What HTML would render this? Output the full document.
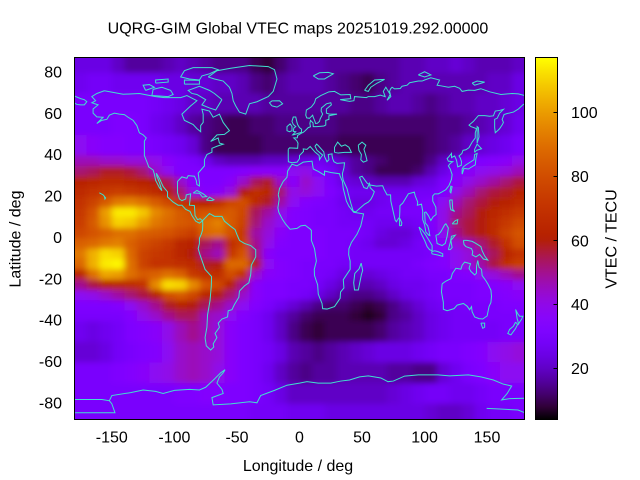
<!DOCTYPE html>
<html><head><meta charset="utf-8">
<style>
html,body{margin:0;padding:0;background:#fff}
svg{display:block}
text{font-family:"Liberation Sans",Arial,sans-serif;font-size:16px;fill:#000}
.a6{fill:#22001c}.a8{fill:#300038}.a10{fill:#3b0053}.a12{fill:#44006e}.a14{fill:#4c0086}.a16{fill:#53009e}.a18{fill:#5a00b3}.a20{fill:#6001c6}.a22{fill:#6601d6}.a24{fill:#6b01e4}.a26{fill:#7002f0}.a28{fill:#7502f8}.a30{fill:#7a03fd}.a32{fill:#7f04ff}.a34{fill:#8305fe}.a36{fill:#8806fa}.a38{fill:#8c07f2}.a40{fill:#9008e8}.a42{fill:#940adb}.a44{fill:#980bcb}.a46{fill:#9b0db9}.a48{fill:#9f0fa4}.a50{fill:#a3118e}.a52{fill:#a61375}.a54{fill:#a9165c}.a56{fill:#ad1941}.a58{fill:#b01c25}.a60{fill:#b31f08}.a62{fill:#b72200}.a64{fill:#ba2600}.a66{fill:#bd2a00}.a68{fill:#c02e00}.a70{fill:#c33300}.a72{fill:#c63700}.a74{fill:#c93c00}.a76{fill:#cb4200}.a78{fill:#ce4700}.a80{fill:#d14d00}.a82{fill:#d45300}.a84{fill:#d65a00}.a86{fill:#d96100}.a88{fill:#dc6800}.a90{fill:#de7000}.a92{fill:#e17800}.a94{fill:#e38000}.a96{fill:#e68900}.a98{fill:#e89200}.a100{fill:#eb9c00}.a102{fill:#eda500}.a104{fill:#f0b000}.a106{fill:#f2bb00}.a108{fill:#f4c600}.a110{fill:#f7d100}.a112{fill:#f9dd00}.a114{fill:#fbea00}.a116{fill:#fef700}
.cl polyline{fill:none;stroke:#40e0d0;stroke-width:1;vector-effect:non-scaling-stroke}
</style></head><body>
<svg width="640" height="480" viewBox="0 0 640 480">
<defs>
<rect id="p" width="10.6" height="5.6"/>
<rect id="q" width="10.6" height="10.6"/>
<rect id="r" width="10.6" height="15.6"/>
<filter id="b" x="-10%" y="-10%" width="120%" height="120%"><feGaussianBlur stdDeviation="3.5 3"/></filter>
<clipPath id="cp"><rect x="74.5" y="57.5" width="450" height="362"/></clipPath>
<linearGradient id="cb" x1="0" y1="0" x2="0" y2="1">
<stop offset="0" stop-color="#ffff00"/><stop offset="0.046" stop-color="#f9dd00"/><stop offset="0.0813" stop-color="#f4c600"/><stop offset="0.1166" stop-color="#f0b000"/><stop offset="0.1519" stop-color="#eb9c00"/><stop offset="0.1873" stop-color="#e68900"/><stop offset="0.2226" stop-color="#e17800"/><stop offset="0.258" stop-color="#dc6800"/><stop offset="0.2933" stop-color="#d65a00"/><stop offset="0.3286" stop-color="#d14d00"/><stop offset="0.364" stop-color="#cb4200"/><stop offset="0.3993" stop-color="#c63700"/><stop offset="0.4346" stop-color="#c02e00"/><stop offset="0.47" stop-color="#ba2600"/><stop offset="0.4876" stop-color="#b72200"/><stop offset="0.5053" stop-color="#b31f08"/><stop offset="0.523" stop-color="#b01c25"/><stop offset="0.5406" stop-color="#ad1941"/><stop offset="0.5583" stop-color="#a9165c"/><stop offset="0.576" stop-color="#a61375"/><stop offset="0.5936" stop-color="#a3118e"/><stop offset="0.6113" stop-color="#9f0fa4"/><stop offset="0.629" stop-color="#9b0db9"/><stop offset="0.6466" stop-color="#980bcb"/><stop offset="0.6643" stop-color="#940adb"/><stop offset="0.682" stop-color="#9008e8"/><stop offset="0.7173" stop-color="#8806fa"/><stop offset="0.7527" stop-color="#7f04ff"/><stop offset="0.788" stop-color="#7502f8"/><stop offset="0.8233" stop-color="#6b01e4"/><stop offset="0.8587" stop-color="#6001c6"/><stop offset="0.894" stop-color="#53009e"/><stop offset="0.9293" stop-color="#44006e"/><stop offset="0.9647" stop-color="#300038"/><stop offset="1" stop-color="#000000"/>
</linearGradient>
</defs>
<rect x="74.5" y="57.5" width="450" height="362" fill="#7a03fd"/>
<g clip-path="url(#cp)">
<g filter="url(#b)">
<g transform="matrix(1.251 0 0 2.069 299.5 238.3)">
<g transform="translate(0,-95)"><use href="#r" x="-190" class="a24"/><use href="#r" x="-180" class="a24"/><use href="#r" x="-170" class="a24"/><use href="#r" x="-160" class="a24"/><use href="#r" x="-150" class="a20"/><use href="#r" x="-140" class="a16"/><use href="#r" x="-130" class="a16"/><use href="#r" x="-120" class="a16"/><use href="#r" x="-110" class="a18"/><use href="#r" x="-100" class="a20"/><use href="#r" x="-90" class="a18"/><use href="#r" x="-80" class="a16"/><use href="#r" x="-70" class="a14"/><use href="#r" x="-60" class="a14"/><use href="#r" x="-50" class="a14"/><use href="#r" x="-40" class="a10"/><use href="#r" x="-30" class="a8"/><use href="#r" x="-20" class="a12"/><use href="#r" x="-10" class="a16"/><use href="#r" x="0" class="a18"/><use href="#r" x="10" class="a18"/><use href="#r" x="20" class="a16"/><use href="#r" x="30" class="a16"/><use href="#r" x="40" class="a16"/><use href="#r" x="50" class="a16"/><use href="#r" x="60" class="a16"/><use href="#r" x="70" class="a16"/><use href="#r" x="80" class="a18"/><use href="#r" x="90" class="a18"/><use href="#r" x="100" class="a20"/><use href="#r" x="110" class="a20"/><use href="#r" x="120" class="a22"/><use href="#r" x="130" class="a20"/><use href="#r" x="140" class="a18"/><use href="#r" x="150" class="a18"/><use href="#r" x="160" class="a18"/><use href="#r" x="170" class="a20"/><use href="#r" x="180" class="a20"/></g>
<g transform="translate(0,-80)"><use href="#q" x="-190" class="a26"/><use href="#q" x="-180" class="a26"/><use href="#q" x="-170" class="a28"/><use href="#q" x="-160" class="a28"/><use href="#q" x="-150" class="a26"/><use href="#q" x="-140" class="a26"/><use href="#q" x="-130" class="a26"/><use href="#q" x="-120" class="a26"/><use href="#q" x="-110" class="a24"/><use href="#q" x="-100" class="a24"/><use href="#q" x="-90" class="a22"/><use href="#q" x="-80" class="a22"/><use href="#q" x="-70" class="a20"/><use href="#q" x="-60" class="a20"/><use href="#q" x="-50" class="a18"/><use href="#q" x="-40" class="a14"/><use href="#q" x="-30" class="a12"/><use href="#q" x="-20" class="a16"/><use href="#q" x="-10" class="a18"/><use href="#q" x="0" class="a18"/><use href="#q" x="10" class="a18"/><use href="#q" x="20" class="a16"/><use href="#q" x="30" class="a14"/><use href="#q" x="40" class="a12"/><use href="#q" x="50" class="a10"/><use href="#q" x="60" class="a14"/><use href="#q" x="70" class="a16"/><use href="#q" x="80" class="a18"/><use href="#q" x="90" class="a18"/><use href="#q" x="100" class="a18"/><use href="#q" x="110" class="a18"/><use href="#q" x="120" class="a18"/><use href="#q" x="130" class="a18"/><use href="#q" x="140" class="a18"/><use href="#q" x="150" class="a20"/><use href="#q" x="160" class="a20"/><use href="#q" x="170" class="a24"/><use href="#q" x="180" class="a24"/></g>
<g transform="translate(0,-70)"><use href="#q" x="-190" class="a30"/><use href="#q" x="-180" class="a30"/><use href="#q" x="-170" class="a30"/><use href="#q" x="-160" class="a30"/><use href="#q" x="-150" class="a30"/><use href="#q" x="-140" class="a30"/><use href="#q" x="-130" class="a30"/><use href="#q" x="-120" class="a28"/><use href="#q" x="-110" class="a26"/><use href="#q" x="-100" class="a24"/><use href="#q" x="-90" class="a20"/><use href="#q" x="-80" class="a20"/><use href="#q" x="-70" class="a18"/><use href="#q" x="-60" class="a18"/><use href="#q" x="-50" class="a18"/><use href="#q" x="-40" class="a18"/><use href="#q" x="-30" class="a16"/><use href="#q" x="-20" class="a16"/><use href="#q" x="-10" class="a16"/><use href="#q" x="0" class="a16"/><use href="#q" x="10" class="a16"/><use href="#q" x="20" class="a16"/><use href="#q" x="30" class="a16"/><use href="#q" x="40" class="a14"/><use href="#q" x="50" class="a14"/><use href="#q" x="60" class="a16"/><use href="#q" x="70" class="a18"/><use href="#q" x="80" class="a18"/><use href="#q" x="90" class="a16"/><use href="#q" x="100" class="a14"/><use href="#q" x="110" class="a16"/><use href="#q" x="120" class="a18"/><use href="#q" x="130" class="a18"/><use href="#q" x="140" class="a20"/><use href="#q" x="150" class="a20"/><use href="#q" x="160" class="a22"/><use href="#q" x="170" class="a24"/><use href="#q" x="180" class="a24"/></g>
<g transform="translate(0,-60)"><use href="#q" x="-190" class="a30"/><use href="#q" x="-180" class="a30"/><use href="#q" x="-170" class="a30"/><use href="#q" x="-160" class="a30"/><use href="#q" x="-150" class="a32"/><use href="#q" x="-140" class="a32"/><use href="#q" x="-130" class="a30"/><use href="#q" x="-120" class="a26"/><use href="#q" x="-110" class="a24"/><use href="#q" x="-100" class="a20"/><use href="#q" x="-90" class="a16"/><use href="#q" x="-80" class="a14"/><use href="#q" x="-70" class="a12"/><use href="#q" x="-60" class="a10"/><use href="#q" x="-50" class="a10"/><use href="#q" x="-40" class="a12"/><use href="#q" x="-30" class="a12"/><use href="#q" x="-20" class="a14"/><use href="#q" x="-10" class="a14"/><use href="#q" x="0" class="a14"/><use href="#q" x="10" class="a14"/><use href="#q" x="20" class="a14"/><use href="#q" x="30" class="a12"/><use href="#q" x="40" class="a12"/><use href="#q" x="50" class="a12"/><use href="#q" x="60" class="a12"/><use href="#q" x="70" class="a12"/><use href="#q" x="80" class="a12"/><use href="#q" x="90" class="a12"/><use href="#q" x="100" class="a12"/><use href="#q" x="110" class="a14"/><use href="#q" x="120" class="a14"/><use href="#q" x="130" class="a16"/><use href="#q" x="140" class="a18"/><use href="#q" x="150" class="a20"/><use href="#q" x="160" class="a22"/><use href="#q" x="170" class="a26"/><use href="#q" x="180" class="a26"/></g>
<g transform="translate(0,-50)"><use href="#q" x="-190" class="a38"/><use href="#q" x="-180" class="a38"/><use href="#q" x="-170" class="a36"/><use href="#q" x="-160" class="a34"/><use href="#q" x="-150" class="a34"/><use href="#q" x="-140" class="a32"/><use href="#q" x="-130" class="a32"/><use href="#q" x="-120" class="a30"/><use href="#q" x="-110" class="a28"/><use href="#q" x="-100" class="a26"/><use href="#q" x="-90" class="a22"/><use href="#q" x="-80" class="a14"/><use href="#q" x="-70" class="a10"/><use href="#q" x="-60" class="a10"/><use href="#q" x="-50" class="a10"/><use href="#q" x="-40" class="a10"/><use href="#q" x="-30" class="a12"/><use href="#q" x="-20" class="a12"/><use href="#q" x="-10" class="a12"/><use href="#q" x="0" class="a12"/><use href="#q" x="10" class="a12"/><use href="#q" x="20" class="a12"/><use href="#q" x="30" class="a10"/><use href="#q" x="40" class="a10"/><use href="#q" x="50" class="a10"/><use href="#q" x="60" class="a10"/><use href="#q" x="70" class="a10"/><use href="#q" x="80" class="a10"/><use href="#q" x="90" class="a10"/><use href="#q" x="100" class="a12"/><use href="#q" x="110" class="a14"/><use href="#q" x="120" class="a16"/><use href="#q" x="130" class="a20"/><use href="#q" x="140" class="a22"/><use href="#q" x="150" class="a24"/><use href="#q" x="160" class="a26"/><use href="#q" x="170" class="a30"/><use href="#q" x="180" class="a30"/></g>
<g transform="translate(0,-40)"><use href="#p" x="-190" class="a46"/><use href="#p" x="-180" class="a46"/><use href="#p" x="-170" class="a46"/><use href="#p" x="-160" class="a44"/><use href="#p" x="-150" class="a44"/><use href="#p" x="-140" class="a42"/><use href="#p" x="-130" class="a42"/><use href="#p" x="-120" class="a40"/><use href="#p" x="-110" class="a36"/><use href="#p" x="-100" class="a32"/><use href="#p" x="-90" class="a30"/><use href="#p" x="-80" class="a26"/><use href="#p" x="-70" class="a20"/><use href="#p" x="-60" class="a18"/><use href="#p" x="-50" class="a18"/><use href="#p" x="-40" class="a18"/><use href="#p" x="-30" class="a20"/><use href="#p" x="-20" class="a20"/><use href="#p" x="-10" class="a22"/><use href="#p" x="0" class="a24"/><use href="#p" x="10" class="a26"/><use href="#p" x="20" class="a24"/><use href="#p" x="30" class="a20"/><use href="#p" x="40" class="a16"/><use href="#p" x="50" class="a14"/><use href="#p" x="60" class="a12"/><use href="#p" x="70" class="a10"/><use href="#p" x="80" class="a10"/><use href="#p" x="90" class="a10"/><use href="#p" x="100" class="a14"/><use href="#p" x="110" class="a20"/><use href="#p" x="120" class="a26"/><use href="#p" x="130" class="a30"/><use href="#p" x="140" class="a32"/><use href="#p" x="150" class="a34"/><use href="#p" x="160" class="a36"/><use href="#p" x="170" class="a40"/><use href="#p" x="180" class="a40"/></g>
<g transform="translate(0,-35)"><use href="#p" x="-190" class="a52"/><use href="#p" x="-180" class="a52"/><use href="#p" x="-170" class="a54"/><use href="#p" x="-160" class="a58"/><use href="#p" x="-150" class="a58"/><use href="#p" x="-140" class="a56"/><use href="#p" x="-130" class="a52"/><use href="#p" x="-120" class="a44"/><use href="#p" x="-110" class="a38"/><use href="#p" x="-100" class="a32"/><use href="#p" x="-90" class="a32"/><use href="#p" x="-80" class="a32"/><use href="#p" x="-70" class="a32"/><use href="#p" x="-60" class="a32"/><use href="#p" x="-50" class="a34"/><use href="#p" x="-40" class="a36"/><use href="#p" x="-30" class="a36"/><use href="#p" x="-20" class="a36"/><use href="#p" x="-10" class="a38"/><use href="#p" x="0" class="a40"/><use href="#p" x="10" class="a32"/><use href="#p" x="20" class="a28"/><use href="#p" x="30" class="a22"/><use href="#p" x="40" class="a16"/><use href="#p" x="50" class="a14"/><use href="#p" x="60" class="a10"/><use href="#p" x="70" class="a10"/><use href="#p" x="80" class="a10"/><use href="#p" x="90" class="a12"/><use href="#p" x="100" class="a18"/><use href="#p" x="110" class="a24"/><use href="#p" x="120" class="a32"/><use href="#p" x="130" class="a36"/><use href="#p" x="140" class="a38"/><use href="#p" x="150" class="a40"/><use href="#p" x="160" class="a42"/><use href="#p" x="170" class="a46"/><use href="#p" x="180" class="a46"/></g>
<g transform="translate(0,-30)"><use href="#p" x="-190" class="a62"/><use href="#p" x="-180" class="a62"/><use href="#p" x="-170" class="a64"/><use href="#p" x="-160" class="a66"/><use href="#p" x="-150" class="a66"/><use href="#p" x="-140" class="a64"/><use href="#p" x="-130" class="a62"/><use href="#p" x="-120" class="a60"/><use href="#p" x="-110" class="a54"/><use href="#p" x="-100" class="a44"/><use href="#p" x="-90" class="a36"/><use href="#p" x="-80" class="a32"/><use href="#p" x="-70" class="a32"/><use href="#p" x="-60" class="a36"/><use href="#p" x="-50" class="a44"/><use href="#p" x="-40" class="a54"/><use href="#p" x="-30" class="a58"/><use href="#p" x="-20" class="a44"/><use href="#p" x="-10" class="a36"/><use href="#p" x="0" class="a44"/><use href="#p" x="10" class="a38"/><use href="#p" x="20" class="a30"/><use href="#p" x="30" class="a24"/><use href="#p" x="40" class="a22"/><use href="#p" x="50" class="a20"/><use href="#p" x="60" class="a18"/><use href="#p" x="70" class="a18"/><use href="#p" x="80" class="a18"/><use href="#p" x="90" class="a22"/><use href="#p" x="100" class="a24"/><use href="#p" x="110" class="a30"/><use href="#p" x="120" class="a36"/><use href="#p" x="130" class="a40"/><use href="#p" x="140" class="a44"/><use href="#p" x="150" class="a48"/><use href="#p" x="160" class="a52"/><use href="#p" x="170" class="a56"/><use href="#p" x="180" class="a56"/></g>
<g transform="translate(0,-25)"><use href="#p" x="-190" class="a66"/><use href="#p" x="-180" class="a66"/><use href="#p" x="-170" class="a70"/><use href="#p" x="-160" class="a72"/><use href="#p" x="-150" class="a74"/><use href="#p" x="-140" class="a72"/><use href="#p" x="-130" class="a70"/><use href="#p" x="-120" class="a66"/><use href="#p" x="-110" class="a60"/><use href="#p" x="-100" class="a52"/><use href="#p" x="-90" class="a40"/><use href="#p" x="-80" class="a34"/><use href="#p" x="-70" class="a36"/><use href="#p" x="-60" class="a42"/><use href="#p" x="-50" class="a60"/><use href="#p" x="-40" class="a68"/><use href="#p" x="-30" class="a64"/><use href="#p" x="-20" class="a52"/><use href="#p" x="-10" class="a40"/><use href="#p" x="0" class="a42"/><use href="#p" x="10" class="a38"/><use href="#p" x="20" class="a32"/><use href="#p" x="30" class="a28"/><use href="#p" x="40" class="a26"/><use href="#p" x="50" class="a26"/><use href="#p" x="60" class="a26"/><use href="#p" x="70" class="a26"/><use href="#p" x="80" class="a26"/><use href="#p" x="90" class="a28"/><use href="#p" x="100" class="a28"/><use href="#p" x="110" class="a32"/><use href="#p" x="120" class="a40"/><use href="#p" x="130" class="a46"/><use href="#p" x="140" class="a52"/><use href="#p" x="150" class="a56"/><use href="#p" x="160" class="a58"/><use href="#p" x="170" class="a62"/><use href="#p" x="180" class="a62"/></g>
<g transform="translate(0,-20)"><use href="#p" x="-190" class="a70"/><use href="#p" x="-180" class="a70"/><use href="#p" x="-170" class="a76"/><use href="#p" x="-160" class="a84"/><use href="#p" x="-150" class="a92"/><use href="#p" x="-140" class="a94"/><use href="#p" x="-130" class="a90"/><use href="#p" x="-120" class="a84"/><use href="#p" x="-110" class="a78"/><use href="#p" x="-100" class="a70"/><use href="#p" x="-90" class="a64"/><use href="#p" x="-80" class="a62"/><use href="#p" x="-70" class="a68"/><use href="#p" x="-60" class="a78"/><use href="#p" x="-50" class="a80"/><use href="#p" x="-40" class="a66"/><use href="#p" x="-30" class="a58"/><use href="#p" x="-20" class="a48"/><use href="#p" x="-10" class="a38"/><use href="#p" x="0" class="a34"/><use href="#p" x="10" class="a32"/><use href="#p" x="20" class="a30"/><use href="#p" x="30" class="a26"/><use href="#p" x="40" class="a24"/><use href="#p" x="50" class="a24"/><use href="#p" x="60" class="a26"/><use href="#p" x="70" class="a28"/><use href="#p" x="80" class="a28"/><use href="#p" x="90" class="a30"/><use href="#p" x="100" class="a32"/><use href="#p" x="110" class="a38"/><use href="#p" x="120" class="a46"/><use href="#p" x="130" class="a52"/><use href="#p" x="140" class="a56"/><use href="#p" x="150" class="a60"/><use href="#p" x="160" class="a62"/><use href="#p" x="170" class="a66"/><use href="#p" x="180" class="a66"/></g>
<g transform="translate(0,-15)"><use href="#p" x="-190" class="a72"/><use href="#p" x="-180" class="a72"/><use href="#p" x="-170" class="a82"/><use href="#p" x="-160" class="a100"/><use href="#p" x="-150" class="a114"/><use href="#p" x="-140" class="a114"/><use href="#p" x="-130" class="a108"/><use href="#p" x="-120" class="a96"/><use href="#p" x="-110" class="a90"/><use href="#p" x="-100" class="a84"/><use href="#p" x="-90" class="a80"/><use href="#p" x="-80" class="a82"/><use href="#p" x="-70" class="a82"/><use href="#p" x="-60" class="a84"/><use href="#p" x="-50" class="a78"/><use href="#p" x="-40" class="a54"/><use href="#p" x="-30" class="a48"/><use href="#p" x="-20" class="a40"/><use href="#p" x="-10" class="a34"/><use href="#p" x="0" class="a32"/><use href="#p" x="10" class="a30"/><use href="#p" x="20" class="a30"/><use href="#p" x="30" class="a28"/><use href="#p" x="40" class="a26"/><use href="#p" x="50" class="a26"/><use href="#p" x="60" class="a28"/><use href="#p" x="70" class="a28"/><use href="#p" x="80" class="a30"/><use href="#p" x="90" class="a30"/><use href="#p" x="100" class="a32"/><use href="#p" x="110" class="a40"/><use href="#p" x="120" class="a50"/><use href="#p" x="130" class="a54"/><use href="#p" x="140" class="a60"/><use href="#p" x="150" class="a64"/><use href="#p" x="160" class="a68"/><use href="#p" x="170" class="a72"/><use href="#p" x="180" class="a72"/></g>
<g transform="translate(0,-10)"><use href="#p" x="-190" class="a74"/><use href="#p" x="-180" class="a74"/><use href="#p" x="-170" class="a84"/><use href="#p" x="-160" class="a98"/><use href="#p" x="-150" class="a110"/><use href="#p" x="-140" class="a108"/><use href="#p" x="-130" class="a100"/><use href="#p" x="-120" class="a92"/><use href="#p" x="-110" class="a88"/><use href="#p" x="-100" class="a84"/><use href="#p" x="-90" class="a82"/><use href="#p" x="-80" class="a90"/><use href="#p" x="-70" class="a94"/><use href="#p" x="-60" class="a84"/><use href="#p" x="-50" class="a76"/><use href="#p" x="-40" class="a52"/><use href="#p" x="-30" class="a44"/><use href="#p" x="-20" class="a38"/><use href="#p" x="-10" class="a34"/><use href="#p" x="0" class="a32"/><use href="#p" x="10" class="a30"/><use href="#p" x="20" class="a30"/><use href="#p" x="30" class="a28"/><use href="#p" x="40" class="a28"/><use href="#p" x="50" class="a28"/><use href="#p" x="60" class="a26"/><use href="#p" x="70" class="a26"/><use href="#p" x="80" class="a26"/><use href="#p" x="90" class="a28"/><use href="#p" x="100" class="a32"/><use href="#p" x="110" class="a40"/><use href="#p" x="120" class="a52"/><use href="#p" x="130" class="a56"/><use href="#p" x="140" class="a60"/><use href="#p" x="150" class="a66"/><use href="#p" x="160" class="a72"/><use href="#p" x="170" class="a78"/><use href="#p" x="180" class="a78"/></g>
<g transform="translate(0,-5)"><use href="#p" x="-190" class="a78"/><use href="#p" x="-180" class="a78"/><use href="#p" x="-170" class="a82"/><use href="#p" x="-160" class="a86"/><use href="#p" x="-150" class="a90"/><use href="#p" x="-140" class="a90"/><use href="#p" x="-130" class="a86"/><use href="#p" x="-120" class="a84"/><use href="#p" x="-110" class="a82"/><use href="#p" x="-100" class="a78"/><use href="#p" x="-90" class="a74"/><use href="#p" x="-80" class="a88"/><use href="#p" x="-70" class="a90"/><use href="#p" x="-60" class="a82"/><use href="#p" x="-50" class="a72"/><use href="#p" x="-40" class="a48"/><use href="#p" x="-30" class="a42"/><use href="#p" x="-20" class="a36"/><use href="#p" x="-10" class="a32"/><use href="#p" x="0" class="a32"/><use href="#p" x="10" class="a32"/><use href="#p" x="20" class="a30"/><use href="#p" x="30" class="a30"/><use href="#p" x="40" class="a30"/><use href="#p" x="50" class="a28"/><use href="#p" x="60" class="a24"/><use href="#p" x="70" class="a22"/><use href="#p" x="80" class="a22"/><use href="#p" x="90" class="a26"/><use href="#p" x="100" class="a30"/><use href="#p" x="110" class="a38"/><use href="#p" x="120" class="a50"/><use href="#p" x="130" class="a56"/><use href="#p" x="140" class="a60"/><use href="#p" x="150" class="a66"/><use href="#p" x="160" class="a76"/><use href="#p" x="170" class="a82"/><use href="#p" x="180" class="a82"/></g>
<g transform="translate(0,0)"><use href="#p" x="-190" class="a86"/><use href="#p" x="-180" class="a86"/><use href="#p" x="-170" class="a88"/><use href="#p" x="-160" class="a92"/><use href="#p" x="-150" class="a94"/><use href="#p" x="-140" class="a86"/><use href="#p" x="-130" class="a80"/><use href="#p" x="-120" class="a76"/><use href="#p" x="-110" class="a72"/><use href="#p" x="-100" class="a64"/><use href="#p" x="-90" class="a62"/><use href="#p" x="-80" class="a54"/><use href="#p" x="-70" class="a50"/><use href="#p" x="-60" class="a68"/><use href="#p" x="-50" class="a76"/><use href="#p" x="-40" class="a50"/><use href="#p" x="-30" class="a40"/><use href="#p" x="-20" class="a34"/><use href="#p" x="-10" class="a32"/><use href="#p" x="0" class="a32"/><use href="#p" x="10" class="a32"/><use href="#p" x="20" class="a30"/><use href="#p" x="30" class="a30"/><use href="#p" x="40" class="a28"/><use href="#p" x="50" class="a26"/><use href="#p" x="60" class="a22"/><use href="#p" x="70" class="a22"/><use href="#p" x="80" class="a24"/><use href="#p" x="90" class="a28"/><use href="#p" x="100" class="a32"/><use href="#p" x="110" class="a36"/><use href="#p" x="120" class="a42"/><use href="#p" x="130" class="a46"/><use href="#p" x="140" class="a52"/><use href="#p" x="150" class="a58"/><use href="#p" x="160" class="a70"/><use href="#p" x="170" class="a80"/><use href="#p" x="180" class="a80"/></g>
<g transform="translate(0,5)"><use href="#p" x="-190" class="a92"/><use href="#p" x="-180" class="a92"/><use href="#p" x="-170" class="a104"/><use href="#p" x="-160" class="a112"/><use href="#p" x="-150" class="a110"/><use href="#p" x="-140" class="a88"/><use href="#p" x="-130" class="a76"/><use href="#p" x="-120" class="a72"/><use href="#p" x="-110" class="a70"/><use href="#p" x="-100" class="a64"/><use href="#p" x="-90" class="a60"/><use href="#p" x="-80" class="a50"/><use href="#p" x="-70" class="a46"/><use href="#p" x="-60" class="a72"/><use href="#p" x="-50" class="a82"/><use href="#p" x="-40" class="a52"/><use href="#p" x="-30" class="a36"/><use href="#p" x="-20" class="a32"/><use href="#p" x="-10" class="a32"/><use href="#p" x="0" class="a32"/><use href="#p" x="10" class="a32"/><use href="#p" x="20" class="a30"/><use href="#p" x="30" class="a30"/><use href="#p" x="40" class="a28"/><use href="#p" x="50" class="a28"/><use href="#p" x="60" class="a28"/><use href="#p" x="70" class="a28"/><use href="#p" x="80" class="a28"/><use href="#p" x="90" class="a28"/><use href="#p" x="100" class="a30"/><use href="#p" x="110" class="a34"/><use href="#p" x="120" class="a38"/><use href="#p" x="130" class="a42"/><use href="#p" x="140" class="a48"/><use href="#p" x="150" class="a54"/><use href="#p" x="160" class="a64"/><use href="#p" x="170" class="a70"/><use href="#p" x="180" class="a70"/></g>
<g transform="translate(0,10)"><use href="#p" x="-190" class="a88"/><use href="#p" x="-180" class="a88"/><use href="#p" x="-170" class="a104"/><use href="#p" x="-160" class="a114"/><use href="#p" x="-150" class="a116"/><use href="#p" x="-140" class="a90"/><use href="#p" x="-130" class="a76"/><use href="#p" x="-120" class="a70"/><use href="#p" x="-110" class="a70"/><use href="#p" x="-100" class="a68"/><use href="#p" x="-90" class="a66"/><use href="#p" x="-80" class="a58"/><use href="#p" x="-70" class="a60"/><use href="#p" x="-60" class="a88"/><use href="#p" x="-50" class="a88"/><use href="#p" x="-40" class="a60"/><use href="#p" x="-30" class="a38"/><use href="#p" x="-20" class="a34"/><use href="#p" x="-10" class="a32"/><use href="#p" x="0" class="a30"/><use href="#p" x="10" class="a30"/><use href="#p" x="20" class="a30"/><use href="#p" x="30" class="a28"/><use href="#p" x="40" class="a28"/><use href="#p" x="50" class="a28"/><use href="#p" x="60" class="a28"/><use href="#p" x="70" class="a28"/><use href="#p" x="80" class="a28"/><use href="#p" x="90" class="a30"/><use href="#p" x="100" class="a32"/><use href="#p" x="110" class="a34"/><use href="#p" x="120" class="a38"/><use href="#p" x="130" class="a42"/><use href="#p" x="140" class="a48"/><use href="#p" x="150" class="a56"/><use href="#p" x="160" class="a68"/><use href="#p" x="170" class="a74"/><use href="#p" x="180" class="a74"/></g>
<g transform="translate(0,15)"><use href="#p" x="-190" class="a64"/><use href="#p" x="-180" class="a64"/><use href="#p" x="-170" class="a90"/><use href="#p" x="-160" class="a102"/><use href="#p" x="-150" class="a100"/><use href="#p" x="-140" class="a90"/><use href="#p" x="-130" class="a84"/><use href="#p" x="-120" class="a86"/><use href="#p" x="-110" class="a90"/><use href="#p" x="-100" class="a86"/><use href="#p" x="-90" class="a72"/><use href="#p" x="-80" class="a68"/><use href="#p" x="-70" class="a68"/><use href="#p" x="-60" class="a80"/><use href="#p" x="-50" class="a70"/><use href="#p" x="-40" class="a44"/><use href="#p" x="-30" class="a36"/><use href="#p" x="-20" class="a34"/><use href="#p" x="-10" class="a32"/><use href="#p" x="0" class="a30"/><use href="#p" x="10" class="a30"/><use href="#p" x="20" class="a28"/><use href="#p" x="30" class="a24"/><use href="#p" x="40" class="a22"/><use href="#p" x="50" class="a22"/><use href="#p" x="60" class="a24"/><use href="#p" x="70" class="a26"/><use href="#p" x="80" class="a28"/><use href="#p" x="90" class="a28"/><use href="#p" x="100" class="a30"/><use href="#p" x="110" class="a30"/><use href="#p" x="120" class="a32"/><use href="#p" x="130" class="a34"/><use href="#p" x="140" class="a38"/><use href="#p" x="150" class="a42"/><use href="#p" x="160" class="a46"/><use href="#p" x="170" class="a50"/><use href="#p" x="180" class="a50"/></g>
<g transform="translate(0,20)"><use href="#p" x="-190" class="a50"/><use href="#p" x="-180" class="a50"/><use href="#p" x="-170" class="a56"/><use href="#p" x="-160" class="a62"/><use href="#p" x="-150" class="a64"/><use href="#p" x="-140" class="a66"/><use href="#p" x="-130" class="a70"/><use href="#p" x="-120" class="a96"/><use href="#p" x="-110" class="a112"/><use href="#p" x="-100" class="a110"/><use href="#p" x="-90" class="a96"/><use href="#p" x="-80" class="a82"/><use href="#p" x="-70" class="a78"/><use href="#p" x="-60" class="a62"/><use href="#p" x="-50" class="a50"/><use href="#p" x="-40" class="a36"/><use href="#p" x="-30" class="a32"/><use href="#p" x="-20" class="a32"/><use href="#p" x="-10" class="a30"/><use href="#p" x="0" class="a30"/><use href="#p" x="10" class="a28"/><use href="#p" x="20" class="a24"/><use href="#p" x="30" class="a20"/><use href="#p" x="40" class="a18"/><use href="#p" x="50" class="a18"/><use href="#p" x="60" class="a20"/><use href="#p" x="70" class="a24"/><use href="#p" x="80" class="a26"/><use href="#p" x="90" class="a26"/><use href="#p" x="100" class="a28"/><use href="#p" x="110" class="a30"/><use href="#p" x="120" class="a30"/><use href="#p" x="130" class="a30"/><use href="#p" x="140" class="a32"/><use href="#p" x="150" class="a34"/><use href="#p" x="160" class="a36"/><use href="#p" x="170" class="a38"/><use href="#p" x="180" class="a38"/></g>
<g transform="translate(0,25)"><use href="#p" x="-190" class="a38"/><use href="#p" x="-180" class="a38"/><use href="#p" x="-170" class="a40"/><use href="#p" x="-160" class="a44"/><use href="#p" x="-150" class="a48"/><use href="#p" x="-140" class="a52"/><use href="#p" x="-130" class="a56"/><use href="#p" x="-120" class="a62"/><use href="#p" x="-110" class="a80"/><use href="#p" x="-100" class="a84"/><use href="#p" x="-90" class="a78"/><use href="#p" x="-80" class="a64"/><use href="#p" x="-70" class="a60"/><use href="#p" x="-60" class="a52"/><use href="#p" x="-50" class="a44"/><use href="#p" x="-40" class="a36"/><use href="#p" x="-30" class="a32"/><use href="#p" x="-20" class="a32"/><use href="#p" x="-10" class="a30"/><use href="#p" x="0" class="a28"/><use href="#p" x="10" class="a24"/><use href="#p" x="20" class="a20"/><use href="#p" x="30" class="a16"/><use href="#p" x="40" class="a14"/><use href="#p" x="50" class="a14"/><use href="#p" x="60" class="a16"/><use href="#p" x="70" class="a20"/><use href="#p" x="80" class="a24"/><use href="#p" x="90" class="a26"/><use href="#p" x="100" class="a28"/><use href="#p" x="110" class="a30"/><use href="#p" x="120" class="a30"/><use href="#p" x="130" class="a30"/><use href="#p" x="140" class="a32"/><use href="#p" x="150" class="a32"/><use href="#p" x="160" class="a34"/><use href="#p" x="170" class="a36"/><use href="#p" x="180" class="a36"/></g>
<g transform="translate(0,30)"><use href="#p" x="-190" class="a32"/><use href="#p" x="-180" class="a32"/><use href="#p" x="-170" class="a32"/><use href="#p" x="-160" class="a32"/><use href="#p" x="-150" class="a34"/><use href="#p" x="-140" class="a38"/><use href="#p" x="-130" class="a44"/><use href="#p" x="-120" class="a50"/><use href="#p" x="-110" class="a58"/><use href="#p" x="-100" class="a62"/><use href="#p" x="-90" class="a60"/><use href="#p" x="-80" class="a54"/><use href="#p" x="-70" class="a50"/><use href="#p" x="-60" class="a44"/><use href="#p" x="-50" class="a38"/><use href="#p" x="-40" class="a34"/><use href="#p" x="-30" class="a30"/><use href="#p" x="-20" class="a26"/><use href="#p" x="-10" class="a22"/><use href="#p" x="0" class="a18"/><use href="#p" x="10" class="a14"/><use href="#p" x="20" class="a12"/><use href="#p" x="30" class="a12"/><use href="#p" x="40" class="a10"/><use href="#p" x="50" class="a8"/><use href="#p" x="60" class="a10"/><use href="#p" x="70" class="a14"/><use href="#p" x="80" class="a18"/><use href="#p" x="90" class="a22"/><use href="#p" x="100" class="a26"/><use href="#p" x="110" class="a28"/><use href="#p" x="120" class="a28"/><use href="#p" x="130" class="a30"/><use href="#p" x="140" class="a30"/><use href="#p" x="150" class="a30"/><use href="#p" x="160" class="a32"/><use href="#p" x="170" class="a32"/><use href="#p" x="180" class="a32"/></g>
<g transform="translate(0,35)"><use href="#p" x="-190" class="a30"/><use href="#p" x="-180" class="a30"/><use href="#p" x="-170" class="a30"/><use href="#p" x="-160" class="a30"/><use href="#p" x="-150" class="a30"/><use href="#p" x="-140" class="a34"/><use href="#p" x="-130" class="a40"/><use href="#p" x="-120" class="a44"/><use href="#p" x="-110" class="a50"/><use href="#p" x="-100" class="a54"/><use href="#p" x="-90" class="a54"/><use href="#p" x="-80" class="a46"/><use href="#p" x="-70" class="a44"/><use href="#p" x="-60" class="a38"/><use href="#p" x="-50" class="a34"/><use href="#p" x="-40" class="a30"/><use href="#p" x="-30" class="a26"/><use href="#p" x="-20" class="a20"/><use href="#p" x="-10" class="a16"/><use href="#p" x="0" class="a12"/><use href="#p" x="10" class="a10"/><use href="#p" x="20" class="a10"/><use href="#p" x="30" class="a10"/><use href="#p" x="40" class="a8"/><use href="#p" x="50" class="a6"/><use href="#p" x="60" class="a8"/><use href="#p" x="70" class="a14"/><use href="#p" x="80" class="a16"/><use href="#p" x="90" class="a20"/><use href="#p" x="100" class="a24"/><use href="#p" x="110" class="a26"/><use href="#p" x="120" class="a28"/><use href="#p" x="130" class="a28"/><use href="#p" x="140" class="a30"/><use href="#p" x="150" class="a30"/><use href="#p" x="160" class="a30"/><use href="#p" x="170" class="a30"/><use href="#p" x="180" class="a30"/></g>
<g transform="translate(0,40)"><use href="#q" x="-190" class="a26"/><use href="#q" x="-180" class="a26"/><use href="#q" x="-170" class="a24"/><use href="#q" x="-160" class="a26"/><use href="#q" x="-150" class="a28"/><use href="#q" x="-140" class="a32"/><use href="#q" x="-130" class="a34"/><use href="#q" x="-120" class="a36"/><use href="#q" x="-110" class="a40"/><use href="#q" x="-100" class="a46"/><use href="#q" x="-90" class="a50"/><use href="#q" x="-80" class="a46"/><use href="#q" x="-70" class="a42"/><use href="#q" x="-60" class="a36"/><use href="#q" x="-50" class="a32"/><use href="#q" x="-40" class="a30"/><use href="#q" x="-30" class="a26"/><use href="#q" x="-20" class="a20"/><use href="#q" x="-10" class="a14"/><use href="#q" x="0" class="a10"/><use href="#q" x="10" class="a8"/><use href="#q" x="20" class="a10"/><use href="#q" x="30" class="a10"/><use href="#q" x="40" class="a10"/><use href="#q" x="50" class="a10"/><use href="#q" x="60" class="a12"/><use href="#q" x="70" class="a16"/><use href="#q" x="80" class="a18"/><use href="#q" x="90" class="a20"/><use href="#q" x="100" class="a24"/><use href="#q" x="110" class="a26"/><use href="#q" x="120" class="a28"/><use href="#q" x="130" class="a28"/><use href="#q" x="140" class="a28"/><use href="#q" x="150" class="a28"/><use href="#q" x="160" class="a30"/><use href="#q" x="170" class="a30"/><use href="#q" x="180" class="a30"/></g>
<g transform="translate(0,50)"><use href="#q" x="-190" class="a22"/><use href="#q" x="-180" class="a22"/><use href="#q" x="-170" class="a22"/><use href="#q" x="-160" class="a24"/><use href="#q" x="-150" class="a28"/><use href="#q" x="-140" class="a30"/><use href="#q" x="-130" class="a32"/><use href="#q" x="-120" class="a34"/><use href="#q" x="-110" class="a38"/><use href="#q" x="-100" class="a44"/><use href="#q" x="-90" class="a46"/><use href="#q" x="-80" class="a44"/><use href="#q" x="-70" class="a42"/><use href="#q" x="-60" class="a36"/><use href="#q" x="-50" class="a32"/><use href="#q" x="-40" class="a30"/><use href="#q" x="-30" class="a28"/><use href="#q" x="-20" class="a24"/><use href="#q" x="-10" class="a18"/><use href="#q" x="0" class="a16"/><use href="#q" x="10" class="a14"/><use href="#q" x="20" class="a16"/><use href="#q" x="30" class="a18"/><use href="#q" x="40" class="a20"/><use href="#q" x="50" class="a22"/><use href="#q" x="60" class="a24"/><use href="#q" x="70" class="a24"/><use href="#q" x="80" class="a24"/><use href="#q" x="90" class="a26"/><use href="#q" x="100" class="a28"/><use href="#q" x="110" class="a30"/><use href="#q" x="120" class="a30"/><use href="#q" x="130" class="a32"/><use href="#q" x="140" class="a34"/><use href="#q" x="150" class="a38"/><use href="#q" x="160" class="a40"/><use href="#q" x="170" class="a42"/><use href="#q" x="180" class="a42"/></g>
<g transform="translate(0,60)"><use href="#q" x="-190" class="a30"/><use href="#q" x="-180" class="a30"/><use href="#q" x="-170" class="a30"/><use href="#q" x="-160" class="a30"/><use href="#q" x="-150" class="a32"/><use href="#q" x="-140" class="a34"/><use href="#q" x="-130" class="a36"/><use href="#q" x="-120" class="a38"/><use href="#q" x="-110" class="a40"/><use href="#q" x="-100" class="a44"/><use href="#q" x="-90" class="a46"/><use href="#q" x="-80" class="a44"/><use href="#q" x="-70" class="a40"/><use href="#q" x="-60" class="a36"/><use href="#q" x="-50" class="a32"/><use href="#q" x="-40" class="a30"/><use href="#q" x="-30" class="a26"/><use href="#q" x="-20" class="a20"/><use href="#q" x="-10" class="a16"/><use href="#q" x="0" class="a14"/><use href="#q" x="10" class="a16"/><use href="#q" x="20" class="a16"/><use href="#q" x="30" class="a18"/><use href="#q" x="40" class="a18"/><use href="#q" x="50" class="a18"/><use href="#q" x="60" class="a18"/><use href="#q" x="70" class="a16"/><use href="#q" x="80" class="a16"/><use href="#q" x="90" class="a14"/><use href="#q" x="100" class="a14"/><use href="#q" x="110" class="a22"/><use href="#q" x="120" class="a26"/><use href="#q" x="130" class="a30"/><use href="#q" x="140" class="a32"/><use href="#q" x="150" class="a36"/><use href="#q" x="160" class="a38"/><use href="#q" x="170" class="a38"/><use href="#q" x="180" class="a38"/></g>
<g transform="translate(0,70)"><use href="#q" x="-190" class="a30"/><use href="#q" x="-180" class="a30"/><use href="#q" x="-170" class="a30"/><use href="#q" x="-160" class="a30"/><use href="#q" x="-150" class="a30"/><use href="#q" x="-140" class="a30"/><use href="#q" x="-130" class="a30"/><use href="#q" x="-120" class="a30"/><use href="#q" x="-110" class="a30"/><use href="#q" x="-100" class="a32"/><use href="#q" x="-90" class="a32"/><use href="#q" x="-80" class="a34"/><use href="#q" x="-70" class="a34"/><use href="#q" x="-60" class="a32"/><use href="#q" x="-50" class="a32"/><use href="#q" x="-40" class="a30"/><use href="#q" x="-30" class="a28"/><use href="#q" x="-20" class="a24"/><use href="#q" x="-10" class="a20"/><use href="#q" x="0" class="a20"/><use href="#q" x="10" class="a20"/><use href="#q" x="20" class="a20"/><use href="#q" x="30" class="a20"/><use href="#q" x="40" class="a20"/><use href="#q" x="50" class="a20"/><use href="#q" x="60" class="a20"/><use href="#q" x="70" class="a22"/><use href="#q" x="80" class="a24"/><use href="#q" x="90" class="a26"/><use href="#q" x="100" class="a28"/><use href="#q" x="110" class="a28"/><use href="#q" x="120" class="a26"/><use href="#q" x="130" class="a26"/><use href="#q" x="140" class="a28"/><use href="#q" x="150" class="a30"/><use href="#q" x="160" class="a30"/><use href="#q" x="170" class="a30"/><use href="#q" x="180" class="a30"/></g>
<g transform="translate(0,80)"><use href="#r" x="-190" class="a30"/><use href="#r" x="-180" class="a30"/><use href="#r" x="-170" class="a30"/><use href="#r" x="-160" class="a30"/><use href="#r" x="-150" class="a30"/><use href="#r" x="-140" class="a30"/><use href="#r" x="-130" class="a30"/><use href="#r" x="-120" class="a30"/><use href="#r" x="-110" class="a30"/><use href="#r" x="-100" class="a30"/><use href="#r" x="-90" class="a30"/><use href="#r" x="-80" class="a30"/><use href="#r" x="-70" class="a30"/><use href="#r" x="-60" class="a30"/><use href="#r" x="-50" class="a30"/><use href="#r" x="-40" class="a28"/><use href="#r" x="-30" class="a28"/><use href="#r" x="-20" class="a28"/><use href="#r" x="-10" class="a26"/><use href="#r" x="0" class="a26"/><use href="#r" x="10" class="a26"/><use href="#r" x="20" class="a24"/><use href="#r" x="30" class="a24"/><use href="#r" x="40" class="a24"/><use href="#r" x="50" class="a24"/><use href="#r" x="60" class="a24"/><use href="#r" x="70" class="a24"/><use href="#r" x="80" class="a24"/><use href="#r" x="90" class="a24"/><use href="#r" x="100" class="a22"/><use href="#r" x="110" class="a20"/><use href="#r" x="120" class="a20"/><use href="#r" x="130" class="a22"/><use href="#r" x="140" class="a26"/><use href="#r" x="150" class="a28"/><use href="#r" x="160" class="a28"/><use href="#r" x="170" class="a30"/><use href="#r" x="180" class="a30"/></g>
</g>
</g>
<g class="cl" transform="matrix(1.251 0 0 2.069 299.5 238.3)">
<polyline points="-156,-71.3 -141,-69.6 -128,-70 -115,-68.5 -108,-68 -95,-68 -90,-69 -82,-66.5 -87,-64 -94,-60 -92,-57 -85,-55 -82,-53 -79,-51.5 -79,-54.5 -77,-56 -77,-60 -78,-62.4 -72,-61.5 -69,-58.5 -64,-60 -61,-56 -56,-52 -60,-50.2 -66,-50 -71,-46.8 -65,-48.5 -64,-46 -61,-45.5 -66,-44.5 -70,-43.5 -70,-41.6 -74,-40.5 -76,-38 -76,-35 -81,-31.5 -80,-27 -80,-25.3 -82,-26 -82.5,-28 -84,-30 -89,-30.3 -90,-29 -94,-29.7 -97.5,-27.5 -97.5,-22 -96,-19 -94,-18.2 -91,-19 -90.5,-21 -87,-21.5 -88,-16 -84,-15.8 -83.5,-11 -81.5,-9 -79.5,-9.5 -77.5,-8.5 -80,-7.3 -83,-8.3 -86,-11 -87.5,-13 -91,-14 -94,-16 -97,-16 -101,-17.5 -105.5,-20 -105.5,-22.5 -109,-25 -112,-29 -114.5,-31.5 -114,-30 -112,-27 -110,-23 -112,-24.5 -115,-28 -116,-31 -117,-33 -120.5,-34.5 -122,-37 -124,-40 -124,-43 -124,-47 -122.5,-48.5 -125,-50 -128,-51 -130,-54.5 -133,-57 -137,-58.5 -140,-59.8 -144,-60 -148,-60.5 -152,-59.5 -154,-57.5 -158,-57 -162,-55.5 -157,-58.5 -162,-58.7 -165,-60.5 -165,-62.5 -161,-64.5 -166,-65.5 -163,-66.5 -166,-68.5 -162,-70 -156,-71.3"/>
<polyline points="-73,-78 -66,-81 -55,-82.2 -40,-83.5 -25,-83 -20,-81.5 -18,-77 -21,-71 -25,-68.5 -34,-66 -40,-65 -43,-60 -48,-61 -51,-64 -53,-66.5 -54,-70 -56,-73 -61,-76 -68,-77 -73,-78"/>
<polyline points="-62,-67 -64,-65 -67,-62 -72,-63 -78,-64.5 -75,-67 -82,-69.5 -86,-70 -89,-71.5 -80,-73.5 -72,-71.5 -68,-70 -62,-67"/>
<polyline points="-80,-76.5 -78,-78.5 -72,-79.5 -65,-81.5 -70,-82.5 -85,-82.5 -92,-81 -95,-78 -88,-77 -80,-76.5"/>
<polyline points="-118,-69 -105,-68.5 -101,-69.5 -103,-71.5 -110,-73 -117,-72 -118,-69"/>
<polyline points="-123,-71.5 -125,-74 -120,-74.3 -116,-73 -123,-71.5"/>
<polyline points="-92,-74.5 -80,-74.5 -80,-76.3 -92,-76.5 -92,-74.5"/>
<polyline points="-115,-75 -105,-75.5 -105,-77 -115,-76.5 -115,-75"/>
<polyline points="-85,-21.9 -82,-23.1 -77,-21.5 -74.2,-20.2 -77.5,-19.9 -80,-21.8 -85,-21.9"/>
<polyline points="-74.4,-18.4 -72,-19.9 -68.4,-18.6 -70,-18.2 -74.4,-18.4"/>
<polyline points="-160,-22 -157,-21 -155,-19.5 -155.5,-19 -156,-20.5"/>
<polyline points="-77.5,-8.5 -72,-12 -68,-10.6 -62,-10.6 -60,-8.3 -55,-5.8 -51.5,-4.2 -50,-1.8 -48,1 -44,2.5 -39,3.5 -35,5.5 -35,9 -38.5,13 -39,17.5 -40.5,21.5 -44,23 -48,25.5 -48.5,28.5 -52,32 -54,34.5 -57,35 -57.5,38 -62,39 -65,41 -64,43 -67.5,46 -66,48 -69,51 -68.5,52.5 -71,54 -74.5,52 -75.5,48 -74,43 -73.5,37 -71.5,30 -70.5,23 -70.3,18.5 -75.5,15 -79.5,8 -81,5 -80,2.5 -80,0 -78.5,-2 -77.5,-4 -77.3,-7 -77.5,-8.5"/>
<polyline points="-17,-21 -16,-24 -13,-27.5 -10,-29.5 -9.5,-32.5 -6,-35.8 -2,-35 3,-36.8 10,-37.3 11,-33.5 15,-32.3 20,-30.5 20,-32.5 25,-31.8 32,-31.2 32.5,-30 34.3,-27.5 35,-24 37.5,-18 39.5,-15.5 43.3,-12.6 51.2,-11.8 49,-6 46,-2 41.5,2 39.5,5 39.3,8 40.5,11 40.5,15 35,20 35.5,24 32.8,26 32.5,29 28,33 22,34.2 18.5,34 18,31.5 15,27 14.5,22.5 12,18 11.8,15 13.5,11 12,5 9.5,1 9.5,-3.8 8.5,-4.5 4.5,-6.3 1,-6 -2,-4.8 -7.5,-4.4 -11,-6.8 -13.5,-9 -16.5,-12.5 -17.3,-14.7 -16.2,-19 -17,-21"/>
<polyline points="49.3,12 50.5,15.5 49.5,17.5 47,25 44,25 43.3,21.5 44.2,17 47.7,14.7 49.3,12"/>
<polyline points="-9,-43 -9,-39 -8.9,-37 -6,-36.5 -2,-36.8 0,-38.5 0,-40 3.2,-42 3,-43.2 6,-43 8.5,-44.4 10.5,-43 12.4,-41.7 15.7,-40 16,-38 17,-39 18.5,-40.2 16,-41.5 14,-42.5 12.4,-44.5 13.7,-45.5 15,-44.8 19.4,-41.8 20,-39.5 22,-37 23.5,-38 23,-40.5 26,-40.8 26,-40 26.5,-38.5 27.5,-37 30,-36.2 36,-36.5 35.5,-34 34.3,-31.3 34.5,-29.5 35,-28 38,-24 39,-21.5 41,-17 43,-13 45,-12.8 52,-16.5 55,-17.5 57,-18.8 58.5,-20.5 59.8,-22.5 56.5,-24.5 56,-26.5 54,-24 51.5,-24.5 50,-26.5 48,-29.5 50,-30 54,-26.7 57,-25.7 61.5,-25.2 66.5,-25.4 67.5,-23.8 70,-21 72.8,-21 73,-18 74.5,-14 76.5,-8.7 77.5,-8 78.2,-8.8 80,-10.3 80.2,-13 80.3,-15.8 82.5,-17 87,-21.5 90,-22 91.8,-22.3 92.5,-20.5 94.5,-17.5 94.2,-16 97.5,-16.5 98.5,-13 98.5,-9 100,-6.5 101,-3 103.5,-1.4 104.2,-1.3 103.4,-4 102.5,-6 100.5,-7.5 100,-12.5 101,-12.7 103,-11 105,-8.6 106.8,-10.4 109.2,-11.5 109,-15 106.5,-18 106.5,-20.5 108,-21.5 111,-21.5 113.5,-22.3 117,-23.5 119.5,-25.5 121.5,-28.5 122,-30.8 120.5,-33.5 119,-35 120.5,-36.2 122.5,-37 119,-37.3 118,-38.5 119.5,-39.5 121.5,-41 121.5,-39 124,-39.8 125.5,-37.8 126.5,-34.5 129.3,-35.3 129.5,-37 128.5,-38.8 127.5,-39.8 129.8,-41 130.7,-42.5 133,-42.8 135.5,-43.8 138,-46.5 140.5,-48.5 140.5,-51 141.5,-53 137,-54 135.5,-54.7 139,-56.5 143,-59.3 148,-59.3 152,-59 155,-59.2 156.5,-61.5 160,-61.8 163,-62.3 160,-60.5 158,-58 156,-57.5 156,-53.5 156.5,-51 158.3,-52 160,-53 162,-54.8 163,-56 162,-57.5 163.5,-59.8 166,-60.3 171,-61 175,-62.5 178.5,-64.5 180,-65"/>
<polyline points="-180,-65.5 -178,-64.7 -175,-64.5 -172,-64.5 -170,-66 -172,-67 -175,-67.5 -180,-68.8"/>
<polyline points="180,-69 175,-69.8 170,-70 161,-69.5 152,-70.8 145,-72.3 140,-71.5 135,-71.6 130,-71 128,-72.5 124,-73.5 119,-73 113,-73.7 110,-74 112,-76.5 105,-77.6 100,-76.5 98,-76 95,-76 88,-75.2 86,-74 82,-73.5 80.5,-72.4 76,-72.2 74,-73 72.8,-72.2 72,-71 73,-68.5 70,-66.7 72.5,-69.5 69,-73 67,-71 68.5,-68.5 64.5,-69.2 60,-68.5 55,-68.5 53.5,-68 44,-68.5 43.5,-66.5 40,-66.2 35,-66.7 32.5,-67 41,-67.5 40.5,-69.5 33,-69.3 28,-71 23.5,-70.8 17,-69 13,-67.5 12,-65.5 9.5,-63.5 5.5,-62 5,-59.5 5.8,-58.2 8,-58 10.5,-59.5 11,-58.5 12.5,-56.3 12.8,-55.5 14.3,-55.6 16,-56.5 16.5,-57.7 18.5,-60 17.3,-61.5 17.5,-63 21.5,-65 25,-65.5 25.5,-64.5 21.5,-62.5 21.5,-60.5 24,-60 30,-60 23.5,-59.2 23.5,-57.5 21,-57 21,-56 21,-54.8 19.5,-54.3 14,-54 11,-54 10.8,-55.8 8.8,-57 8.3,-55.5 8.8,-53.9 7,-53.5 4.5,-52 3,-51.2 1.5,-50.8 -1.5,-49.7 -1.7,-48.6 -4.6,-48.5 -2.2,-47.2 -1.2,-46 -1.5,-43.5 -8,-43.7 -9,-43"/>
<polyline points="28,-41.5 28,-44 30.5,-46.5 33.5,-44.5 36.5,-45.2 39.5,-44 41.5,-41.5 36,-41.5 31,-41.2 28,-41.5"/>
<polyline points="47,-45 50,-46.5 53,-45 51.5,-43 53,-40 54,-37.5 51,-36.8 49,-38 49.5,-40.5 47.5,-42.5 47,-45"/>
<polyline points="-5,-50 1.5,-51.2 1.7,-52.7 0,-53.5 -1.5,-55 -2,-56 -3,-58.6 -5,-58.6 -6,-56.5 -5,-55 -3,-54 -4.5,-53.3 -5,-51.7 -3,-51.5 -5.5,-50 -5,-50"/>
<polyline points="-6,-52 -6,-54 -7.5,-55.3 -10,-54 -10,-52 -8,-51.5 -6,-52"/>
<polyline points="-22,-64 -24,-65.5 -22,-66.4 -16,-66.5 -13.5,-65 -18,-63.4 -22,-64"/>
<polyline points="11,-78.5 16,-80 23,-80.2 27,-79.5 20,-77 15,-77 11,-78.5"/>
<polyline points="52,-71.5 55,-74 60,-76.5 68,-76.8 62,-75 57,-73 55,-71 52,-71.5"/>
<polyline points="95,-79 100,-80.5 105,-79 100,-78 95,-79"/>
<polyline points="138,-75 142,-76 148,-75.5 140,-74 138,-75"/>
<polyline points="130,-31 131.5,-33.8 135,-33.5 139,-35 140.5,-35.5 141,-38.5 142,-41 140,-40.5 139.5,-38 137,-37 133,-35.5 131,-34.5 130,-33.5 130,-31"/>
<polyline points="140,-41.5 141.5,-42.5 145.5,-43.3 142,-45.5 140,-43 140,-41.5"/>
<polyline points="142,-46 143.5,-49 143,-53.5 142,-54 142,-51 142,-46"/>
<polyline points="120.2,-22.5 121,-25.2 122,-25 121,-22 120.2,-22.5"/>
<polyline points="120,-18.5 122,-18.5 122.5,-14 124,-13 121,-13.8 120.5,-15 120,-18.5"/>
<polyline points="122,-7 126,-7 126.5,-9 124.5,-8.5 122,-7"/>
<polyline points="109,-1.5 110,2.5 114,3.5 116.5,2.5 118,-1 119,-5 117,-7 116,-6.5 113,-3.2 111,-1.8 109,-1.5"/>
<polyline points="95.5,-5.5 98,-4 101,-1.5 104,1.5 106,3.5 106,6 104,5.5 102,4 100,1 97.5,-2 95.5,-5.5"/>
<polyline points="105.5,6.5 108,6 111,6.5 114.5,7.5 114.5,8.7 110,8 106,7.5 105.5,6.5"/>
<polyline points="119,5.5 120.5,2 121.5,-1 124.5,-1.5 121,1 122,4.5 120.5,5.5 119,5.5"/>
<polyline points="131,1 134,1 138,1.5 141,2.5 145,4 146,6 148,8.5 150.5,10.5 147,10 144,7.8 141,9 138,8 138.5,6.5 137.5,5 133,4 131.5,3 131,1"/>
<polyline points="80,-6 80,-9.8 81.8,-7.5 81.5,-6.2 80,-6"/>
<polyline points="114,22 113.5,26 115,31 115,34.3 118,35 123.5,34 126,32.3 131,31.5 134,32.8 136,34.5 137.5,33 138,35.5 140,38 143.5,38.8 146.5,39 150,37.5 151.5,33 153,31 153.5,28 153,25 150.5,22 149,20.5 146,18 145.5,15 143.5,14 142.5,10.7 141.5,13.5 141.5,16.8 140,17.7 137,16 135.5,14.5 136.7,12.3 132,11.5 130,13 129,14.9 125,14.5 122.2,17 121,19.5 117,20.7 114,22"/>
<polyline points="145,41 148,41 148,43 146.5,43.5 145,41"/>
<polyline points="172.7,34.4 174.5,36.5 176,37.7 178.5,37.7 177.5,39.2 176.5,40 175,41.5 174.5,39.8 174,39 173,35 172.7,34.4"/>
<polyline points="172.7,40.5 174.3,41.7 172.5,43.8 171,45 169,46.7 166.5,46 168,44 171,42.5 172.7,40.5"/>
<polyline points="-180,77.9 -158,77.9 -152,78.5 -150,76 -135,74.6 -125,73.3 -115,74 -109,75 -100,73.5 -88,73 -80,73.3 -75,72 -68,68 -63,65 -59.5,63.5 -61,65 -64,67 -66,70 -62,73 -61,75 -70,77 -69,80.5 -55,80 -40,79 -34,79.5 -31,76 -20,73.5 -10,71 0,70 6,69.3 15,70 25,70 33,69 40,68.5 48,67 55,66.5 65,67.5 70.7,69.3 75,69 84,66.6 95,66 110.7,66 120,66.5 135,66 145,67 155,68.5 163,70.5 169.6,71.4 166,75 161.6,78.1 168,77.5 180,77.3"/>
<polyline points="-180,84.3 -147.5,84.3 -150,80 -152,78.5"/>
<polyline points="149.6,82.2 160,82.5 174.7,83 180,84.3"/>
</g>
</g>
<rect x="74.5" y="57.5" width="450" height="362" fill="none" stroke="#000" stroke-width="1"/>
<rect x="535.5" y="57.5" width="22" height="362" fill="url(#cb)" stroke="#000" stroke-width="1"/>
<g stroke="#000" stroke-width="1">
<line x1="553.5" y1="112.5" x2="557.5" y2="112.5"/>
<line x1="553.5" y1="176.5" x2="557.5" y2="176.5"/>
<line x1="553.5" y1="240.5" x2="557.5" y2="240.5"/>
<line x1="553.5" y1="304.5" x2="557.5" y2="304.5"/>
<line x1="553.5" y1="368.5" x2="557.5" y2="368.5"/>
</g>
<text x="298" y="33.5" text-anchor="middle">UQRG-GIM Global VTEC maps 20251019.292.00000</text>
<g text-anchor="end">
<text x="62" y="77.4">80</text>
<text x="62" y="118.8">60</text>
<text x="62" y="160.2">40</text>
<text x="62" y="201.5">20</text>
<text x="62" y="242.9">0</text>
<text x="62" y="284.3">-20</text>
<text x="62" y="325.6">-40</text>
<text x="62" y="367">-60</text>
<text x="62" y="408.4">-80</text>
</g>
<g text-anchor="middle">
<text x="111.8" y="442.7">-150</text>
<text x="174.4" y="442.7">-100</text>
<text x="237" y="442.7">-50</text>
<text x="299.5" y="442.7">0</text>
<text x="362" y="442.7">50</text>
<text x="424.6" y="442.7">100</text>
<text x="487" y="442.7">150</text>
</g>
<g>
<text x="571" y="118">100</text>
<text x="571" y="182">80</text>
<text x="571" y="246.4">60</text>
<text x="571" y="310">40</text>
<text x="571" y="374">20</text>
</g>
<text x="298" y="471" text-anchor="middle">Longitude / deg</text>
<text transform="translate(20.7,239) rotate(-90)" text-anchor="middle">Latitude / deg</text>
<text transform="translate(616.7,239) rotate(-90)" text-anchor="middle">VTEC / TECU</text>
</svg>
</body></html>
